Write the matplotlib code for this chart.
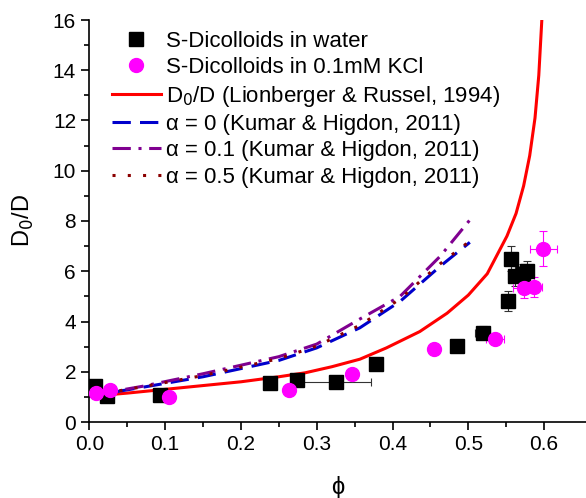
import matplotlib.pyplot as plt
import numpy as np

plt.rcParams['font.family'] = ['Liberation Sans', 'DejaVu Sans']

# dados medidos - S-Dicolloids em agua
phi_agua = [0.0075, 0.023, 0.093, 0.238, 0.274, 0.325, 0.378, 0.485, 0.519, 0.553, 0.556, 0.562, 0.572, 0.578]
d_agua = [1.42, 1.05, 1.08, 1.54, 1.67, 1.58, 2.3, 3.02, 3.56, 4.8, 6.5, 5.8, 5.9, 6.0]
xerr_agua = [0.004, 0.004, 0.004, 0.006, 0.004, 0.046, 0.004, 0.004, 0.01, 0.004, 0.004, 0.01, 0.01, 0.008]
yerr_agua = [0.1, 0.05, 0.05, 0.1, 0.1, 0.05, 0.1, 0.15, 0.25, 0.4, 0.5, 0.4, 0.4, 0.4]

# dados medidos - S-Dicolloids em 0.1mM KCl
phi_kcl = [0.009, 0.027, 0.105, 0.263, 0.347, 0.455, 0.535, 0.574, 0.587, 0.599]
d_kcl = [1.17, 1.27, 0.98, 1.27, 1.91, 2.91, 3.29, 5.33, 5.39, 6.9]
xerr_kcl = [0.004, 0.003, 0.003, 0.003, 0.003, 0.003, 0.012, 0.015, 0.01, 0.018]
yerr_kcl = [0.08, 0.05, 0.05, 0.05, 0.05, 0.1, 0.15, 0.4, 0.4, 0.7]

# curvas teoricas
phi_lr = [0.0, 0.05, 0.1, 0.15, 0.2, 0.25, 0.285, 0.32, 0.357, 0.392, 0.436, 0.472, 0.5, 0.525, 0.551, 0.563, 0.573, 0.581, 0.588, 0.593, 0.597]
d_lr = [1.02, 1.15, 1.3, 1.45, 1.6, 1.8, 1.96, 2.2, 2.5, 2.95, 3.6, 4.33, 5.05, 5.9, 7.4, 8.3, 9.4, 10.6, 12.1, 13.8, 16.0]

phi_kh = [0.0, 0.07, 0.15, 0.25, 0.3, 0.357, 0.41, 0.463, 0.502]
d_a0 = [1.03, 1.38, 1.8, 2.45, 2.95, 3.75, 4.8, 6.2, 7.15]
d_a01 = [1.05, 1.42, 1.92, 2.6, 3.1, 4.1, 5.0, 6.6, 8.04]
d_a05 = [1.04, 1.4, 1.85, 2.52, 3.02, 3.85, 4.9, 6.3, 7.2]

fig = plt.figure(figsize=(5.86, 4.98), dpi=100)
ax = fig.add_axes([89.3 / 586, 76 / 498, (586 - 89.3) / 586, 402 / 498])

eb1 = ax.errorbar(phi_agua, d_agua, xerr=xerr_agua, yerr=yerr_agua, fmt='s', color='black',
                  ms=10, ecolor='#333333', elinewidth=0.8, capsize=3, capthick=0.8, zorder=3)
eb2 = ax.errorbar(phi_kcl, d_kcl, xerr=xerr_kcl, yerr=yerr_kcl, fmt='o', color='#FF00FF',
                  ms=10, ecolor='#FF00FF', elinewidth=0.8, capsize=3, capthick=0.8, zorder=3)
l1, = ax.plot(phi_lr, d_lr, color='#FF0000', lw=2.2)
l2, = ax.plot(phi_kh, d_a0, color='#0000CC', lw=2.2, dashes=(6, 3))
l3, = ax.plot(phi_kh, d_a01, color='#800090', lw=2.2, dashes=(6, 2.5, 1, 2.5))
l4, = ax.plot(phi_kh, d_a05, color='#8B0000', lw=2.2, dashes=(1, 4))

ax.set_xlim(0, (586 - 89.3) / 758)
ax.set_ylim(0, 16)
ax.set_xticks(np.arange(0, 0.65, 0.1))
ax.set_xticklabels(['0.0', '0.1', '0.2', '0.3', '0.4', '0.5', '0.6'])
ax.set_xticks(np.arange(0.05, 0.65, 0.1), minor=True)
ax.set_yticks(np.arange(0, 17, 2))
ax.set_yticks(np.arange(1, 16, 2), minor=True)
ax.tick_params(which='major', direction='out', length=6, width=1.2, labelsize=15)
ax.tick_params(which='minor', direction='out', length=3.5, width=1.2)
for s in ['top', 'right']:
    ax.spines[s].set_visible(False)
for s in ['left', 'bottom']:
    ax.spines[s].set_linewidth(1.2)

ax.set_xlabel('ϕ', fontsize=17, labelpad=16)
ax.set_ylabel('D$_0$/D', fontsize=17, labelpad=12)

leg = ax.legend([eb1[0], eb2[0], l1, l2, l3, l4],
                ['S-Dicolloids in water', 'S-Dicolloids in 0.1mM KCl',
                 'D$_0$/D (Lionberger & Russel, 1994)', 'α = 0 (Kumar & Higdon, 2011)',
                 'α = 0.1 (Kumar & Higdon, 2011)', 'α = 0.5 (Kumar & Higdon, 2011)'],
                loc='upper left', bbox_to_anchor=(103 / 586, 1 - 22 / 498),
                bbox_transform=fig.transFigure, frameon=False, fontsize=16,
                handlelength=2.2, handletextpad=0.25, labelspacing=0.24, borderaxespad=0)

fig.savefig('out.png', dpi=100)
